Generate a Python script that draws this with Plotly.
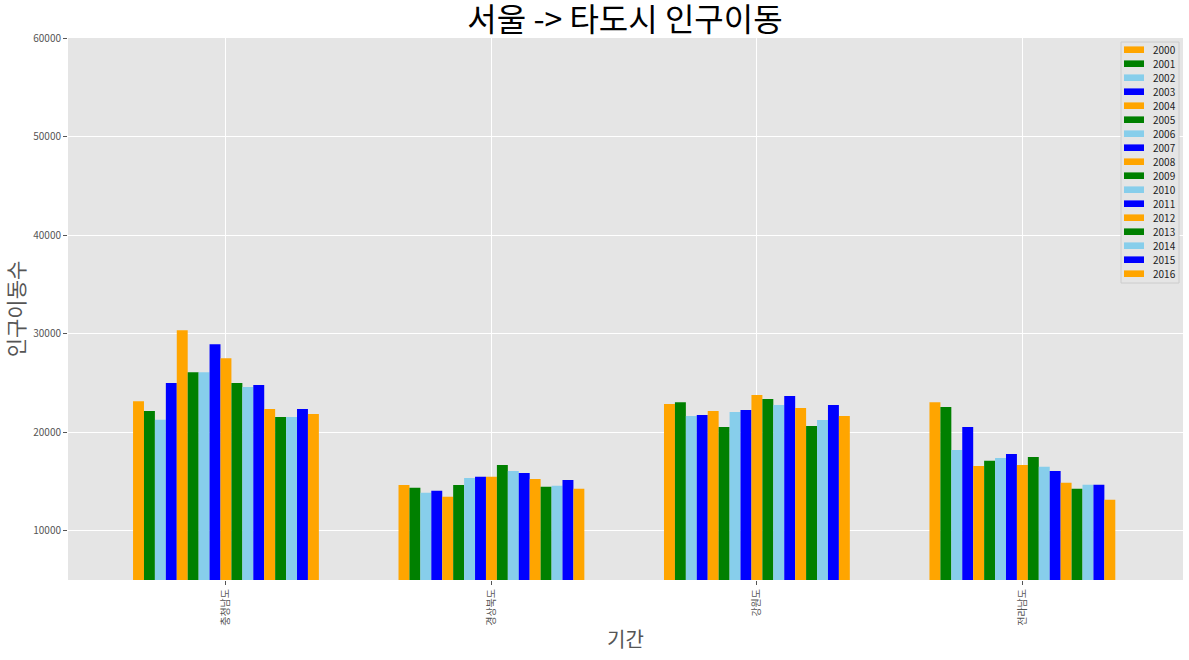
import plotly.graph_objects as go

categories = ["충청남도", "경상북도", "강원도", "전라남도"]
years = [str(y) for y in range(2000, 2017)]

# values per year, in order of categories
values = {
    "2000": [23150, 14650, 22850, 23050],
    "2001": [22150, 14350, 23050, 22550],
    "2002": [21250, 13850, 21650, 18200],
    "2003": [24980, 14050, 21750, 20530],
    "2004": [30340, 13440, 22150, 16580],
    "2005": [26090, 14650, 20530, 17090],
    "2006": [26090, 15360, 22050, 17390],
    "2007": [28930, 15470, 22250, 17790],
    "2008": [27510, 15470, 23770, 16680],
    "2009": [24980, 16680, 23360, 17490],
    "2010": [24580, 16070, 22750, 16480],
    "2011": [24780, 15870, 23660, 16070],
    "2012": [22350, 15260, 22450, 14860],
    "2013": [21540, 14450, 20630, 14250],
    "2014": [21540, 14560, 21240, 14660],
    "2015": [22350, 15160, 22750, 14660],
    "2016": [21840, 14250, 21640, 13140],
}
palette = ["orange", "green", "skyblue", "blue"]

W, H = 1189, 660
ML, MR, MT, MB = 68, 6, 38, 80
PW, PH = W - ML - MR, H - MT - MB

fig = go.Figure()
for i, yr in enumerate(years):
    fig.add_trace(go.Bar(
        x=categories, y=values[yr], name=yr,
        marker=dict(color=palette[i % 4], line=dict(width=0)),
        showlegend=False,
    ))

# custom compact legend (matplotlib style)
def px_x(px):
    return (px - ML) / PW

def px_y(py):
    return 1 - (py - MT) / PH

shapes = [dict(type="rect", xref="paper", yref="paper",
               x0=px_x(1121), x1=px_x(1179), y0=px_y(283), y1=px_y(42),
               fillcolor="#E5E5E5", line=dict(color="#CCCCCC", width=1), layer="above")]
annotations = []
for i, yr in enumerate(years):
    cy = 49.7 + 14.0 * i
    shapes.append(dict(type="rect", xref="paper", yref="paper",
                       x0=px_x(1124), x1=px_x(1144), y0=px_y(cy + 3.3), y1=px_y(cy - 3.3),
                       fillcolor=palette[i % 4], line=dict(width=0), layer="above"))
    annotations.append(dict(text=yr, xref="paper", yref="paper",
                            x=px_x(1151), y=px_y(cy), xanchor="left", yanchor="middle",
                            showarrow=False, font=dict(size=10, color="#222222")))

font_family = "Noto Sans CJK KR"
fig.update_layout(
    width=W, height=H,
    margin=dict(l=ML, r=MR, t=MT, b=MB),
    paper_bgcolor="white",
    plot_bgcolor="#E5E5E5",
    barmode="group", bargap=0.3, bargroupgap=0,
    font=dict(family=font_family, color="#555555", size=10),
    title=dict(text="서울 -> 타도시 인구이동", x=(625) / W, xanchor="center",
               y=1 - 20 / H, yanchor="middle", automargin=False,
               font=dict(size=32, color="black", family=font_family)),
    showlegend=False,
    shapes=shapes,
    annotations=annotations,
)
fig.update_xaxes(
    range=[-0.595, 3.605], tickangle=-90, automargin=False,
    showgrid=True, gridcolor="white", gridwidth=1,
    ticks="outside", ticklen=4, tickcolor="#555555",
    tickfont=dict(size=10, color="#555555"),
    title=dict(text="기간", font=dict(size=20, color="#555555"), standoff=8),
    zeroline=False,
)
fig.update_yaxes(
    range=[5000, 60000], tickvals=[10000, 20000, 30000, 40000, 50000, 60000],
    tickformat="d", automargin=False,
    showgrid=True, gridcolor="white", gridwidth=1,
    ticks="outside", ticklen=4, tickcolor="#555555",
    tickfont=dict(size=10, color="#555555"),
    title=dict(text="인구이동수", font=dict(size=21, color="#555555"), standoff=4),
    zeroline=False,
)
fig.write_html("out.html", config={"displayModeBar": False},
               post_script="document.body.style.margin='0px';")
